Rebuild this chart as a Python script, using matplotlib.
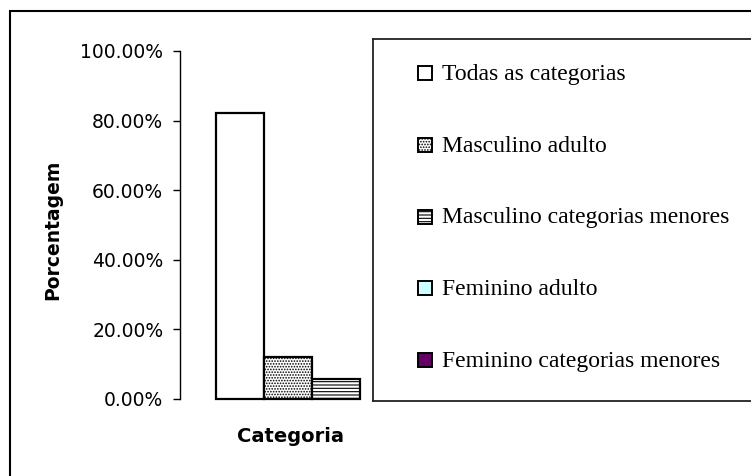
import matplotlib
matplotlib.use("Agg")
import matplotlib.pyplot as plt
from matplotlib.patches import Rectangle
from matplotlib.ticker import FuncFormatter

# ---- data ----
series = ["Todas as categorias", "Masculino adulto", "Masculino categorias menores",
          "Feminino adulto", "Feminino categorias menores"]
values = [82.1, 12.2, 5.7, 0.0, 0.0]          # percent
face_colors = ["white", "white", "white", "#CCFFFF", "#660066"]
hatches = [None, "......", "-----", None, None]
yticks = [0, 20, 40, 60, 80, 100]
xlabel = "Categoria"
ylabel = "Porcentagem"

W, H = 751, 476
plt.rcParams["hatch.linewidth"] = 0.8
plt.rcParams["hatch.color"] = "black"
fig = plt.figure(figsize=(W / 100, H / 100), dpi=100)

def fx(px):
    return px / W

def fy(py):
    return 1 - py / H

# outer chart frame (extends beyond the canvas on right/bottom)
fig.patches.append(Rectangle((fx(10), fy(485)), fx(770) - fx(10), fy(11) - fy(485),
                             transform=fig.transFigure, fill=False,
                             edgecolor="black", linewidth=1.5, zorder=0))

# plot area
left, right, top, bottom = 180, 372, 51, 399
ax = fig.add_axes([fx(left), fy(bottom), fx(right) - fx(left), fy(top) - fy(bottom)])
ax.set_facecolor("none")
bar_w = 1.0
for i, (v, fc, h) in enumerate(zip(values, face_colors, hatches)):
    ax.bar(i, v, width=bar_w, color=fc, hatch=h, edgecolor="black",
           linewidth=1.6 if v > 0 else 0, clip_on=False, zorder=2)

unit = 48.0  # pixels per bar
x0 = -0.5 - (216 - left) / unit
ax.set_xlim(x0, x0 + (right - left) / unit)
ax.set_ylim(0, 100)
ax.set_yticks(yticks)
ax.yaxis.set_major_formatter(FuncFormatter(lambda v, p: f"{v:.2f}%"))
ax.tick_params(axis="y", direction="out", length=5, width=1, labelsize=13.5, pad=7)
ax.set_xticks([])
for s in ["top", "right", "bottom"]:
    ax.spines[s].set_visible(False)
ax.spines["left"].set_linewidth(1)

fig.text(fx(290), fy(437), xlabel, ha="center", va="center",
         fontsize=14, fontweight="bold", family="DejaVu Sans")
fig.text(fx(53), fy(230), ylabel, ha="center", va="center", rotation=90,
         fontsize=13.5, fontweight="bold", family="DejaVu Sans")

# legend box
lt, lb, ll, lr = 39, 401, 373, 770
lax = fig.add_axes([fx(ll), fy(lb), fx(lr) - fx(ll), fy(lt) - fy(lb)])
lax.set_xlim(0, lr - ll)
lax.set_ylim(lb - lt, 0)
lax.set_xticks([])
lax.set_yticks([])
for s in lax.spines.values():
    s.set_linewidth(1.3)
    s.set_edgecolor("#222222")
for i, name in enumerate(series):
    yc = 73 + i * 71.75 - lt
    lax.add_patch(Rectangle((418 - ll, yc - 7), 14, 14, facecolor=face_colors[i],
                            hatch=hatches[i], edgecolor="black", linewidth=1.4))
    lax.text(442 - ll, yc + 1.5, name, ha="left", va="center",
             fontsize=17, family="Liberation Serif")

fig.savefig("out.png", dpi=100)
